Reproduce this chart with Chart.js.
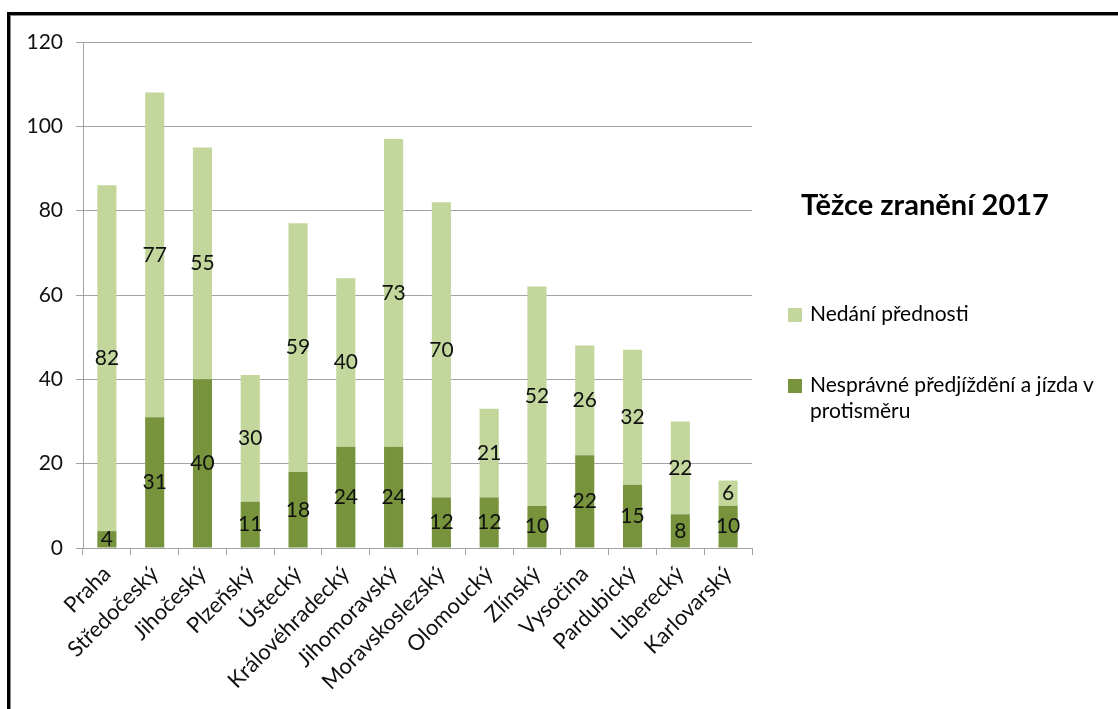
<!DOCTYPE html>
<html lang="cs">
<head>
    <meta charset="UTF-8">
    <title>Těžce zranění 2017</title>
    <script src="https://cdn.jsdelivr.net/npm/chart.js"></script>
    <style>
        body {
            margin: 0;
            background: #ffffff;
            font-family: 'Lato', sans-serif;
            overflow: hidden;
        }

        /* frame of the original screenshot */
        .frame {
            position: absolute;
            left: 7px;
            top: 12px;
            width: 1200px;
            height: 800px;
            border-top: 3px solid #000;
            border-left: 3px solid #000;
        }
        .frame div {
            width: 100%;
            height: 100%;
            border-top: 1px solid #8a8a8a;
            border-left: 1px solid #8a8a8a;
        }

        #chartBox {
            position: absolute;
            left: 0;
            top: 0;
            width: 1118px;
            height: 709px;
        }

        .title {
            position: absolute;
            left: 801px;
            top: 186px;
            font-size: 29px;
            font-weight: bold;
            line-height: 35px;
            color: #000;
            white-space: nowrap;
        }

        .legend-item {
            position: absolute;
            left: 788px;
            font-size: 21px;
            line-height: 26px;
            color: #000;
        }
        .legend-item .box {
            position: absolute;
            left: 0;
            top: 8px;
            width: 14px;
            height: 14px;
        }
        .legend-item .text {
            margin-left: 22px;
            white-space: nowrap;
        }
    </style>
</head>
<body>
    <div class="frame"><div></div></div>

    <div id="chartBox">
        <canvas id="regionChart" width="1118" height="709"></canvas>
    </div>

    <!-- Title + legend -->
    <div class="title">Těžce zranění 2017</div>
    <div class="legend-item" style="top: 300px;">
        <span class="box" style="background: #c3d69b;"></span>
        <div class="text">Nedání přednosti</div>
    </div>
    <div class="legend-item" style="top: 371px;">
        <span class="box" style="background: #77933c;"></span>
        <div class="text">Nesprávné předjíždění a jízda v<br>protisměru</div>
    </div>

    <script>
        const categories = ['Praha', 'Středočeský', 'Jihočeský', 'Plzeňský', 'Ústecký', 'Královéhradecký',
            'Jihomoravský', 'Moravskoslezský', 'Olomoucký', 'Zlínský', 'Vysočina', 'Pardubický',
            'Liberecký', 'Karlovarský'];
        const predjizdeni = [4, 31, 40, 11, 18, 24, 24, 12, 12, 10, 22, 15, 8, 10];
        const prednost = [82, 77, 55, 30, 59, 40, 73, 70, 21, 52, 26, 32, 22, 6];
        const yTicks = [0, 20, 40, 60, 80, 100, 120];

        const gridColor = '#a3a3a3';
        const fontFamily = "'Lato', sans-serif";

        // values written in the middle of every segment
        const segmentLabels = {
            id: 'segmentLabels',
            afterDatasetsDraw(chart) {
                const ctx = chart.ctx;
                ctx.save();
                ctx.font = '21px ' + fontFamily;
                ctx.fillStyle = '#111';
                ctx.textAlign = 'center';
                ctx.textBaseline = 'middle';
                chart.data.datasets.forEach((ds, i) => {
                    const meta = chart.getDatasetMeta(i);
                    meta.data.forEach((bar, j) => {
                        const p = bar.getProps(['x', 'y', 'base'], true);
                        ctx.fillText(ds.data[j], p.x, (p.y + p.base) / 2);
                    });
                });
                ctx.restore();
            }
        };

        const ctx = document.getElementById('regionChart').getContext('2d');
        const chart = new Chart(ctx, {
            type: 'bar',
            data: {
                labels: categories,
                datasets: [{
                    label: 'Nesprávné předjíždění a jízda v protisměru',
                    data: predjizdeni,
                    backgroundColor: '#77933c',
                    categoryPercentage: 1,
                    barPercentage: 0.4
                }, {
                    label: 'Nedání přednosti',
                    data: prednost,
                    backgroundColor: '#c3d69b',
                    categoryPercentage: 1,
                    barPercentage: 0.4
                }]
            },
            options: {
                responsive: false,
                animation: false,
                layout: {
                    padding: { left: 0, top: 42, right: 366, bottom: 0 }
                },
                scales: {
                    x: {
                        stacked: true,
                        grid: {
                            offset: true,
                            drawOnChartArea: false,
                            drawTicks: true,
                            tickLength: 7,
                            color: gridColor
                        },
                        border: { color: gridColor },
                        ticks: {
                            minRotation: 45,
                            maxRotation: 45,
                            padding: 6,
                            color: '#111',
                            font: { family: fontFamily, size: 22 }
                        },
                        afterFit(scale) { scale.height = 161; }
                    },
                    y: {
                        stacked: true,
                        min: 0,
                        max: 120,
                        afterBuildTicks(scale) {
                            scale.ticks = yTicks.map(v => ({ value: v }));
                        },
                        grid: {
                            color: gridColor,
                            drawTicks: true,
                            tickLength: 7
                        },
                        border: { color: gridColor },
                        ticks: {
                            padding: 13,
                            color: '#111',
                            font: { family: fontFamily, size: 21 }
                        },
                        afterFit(scale) { scale.width = 83; }
                    }
                },
                plugins: {
                    legend: { display: false },
                    tooltip: { enabled: false }
                }
            },
            plugins: [segmentLabels]
        });
    </script>
</body>
</html>
